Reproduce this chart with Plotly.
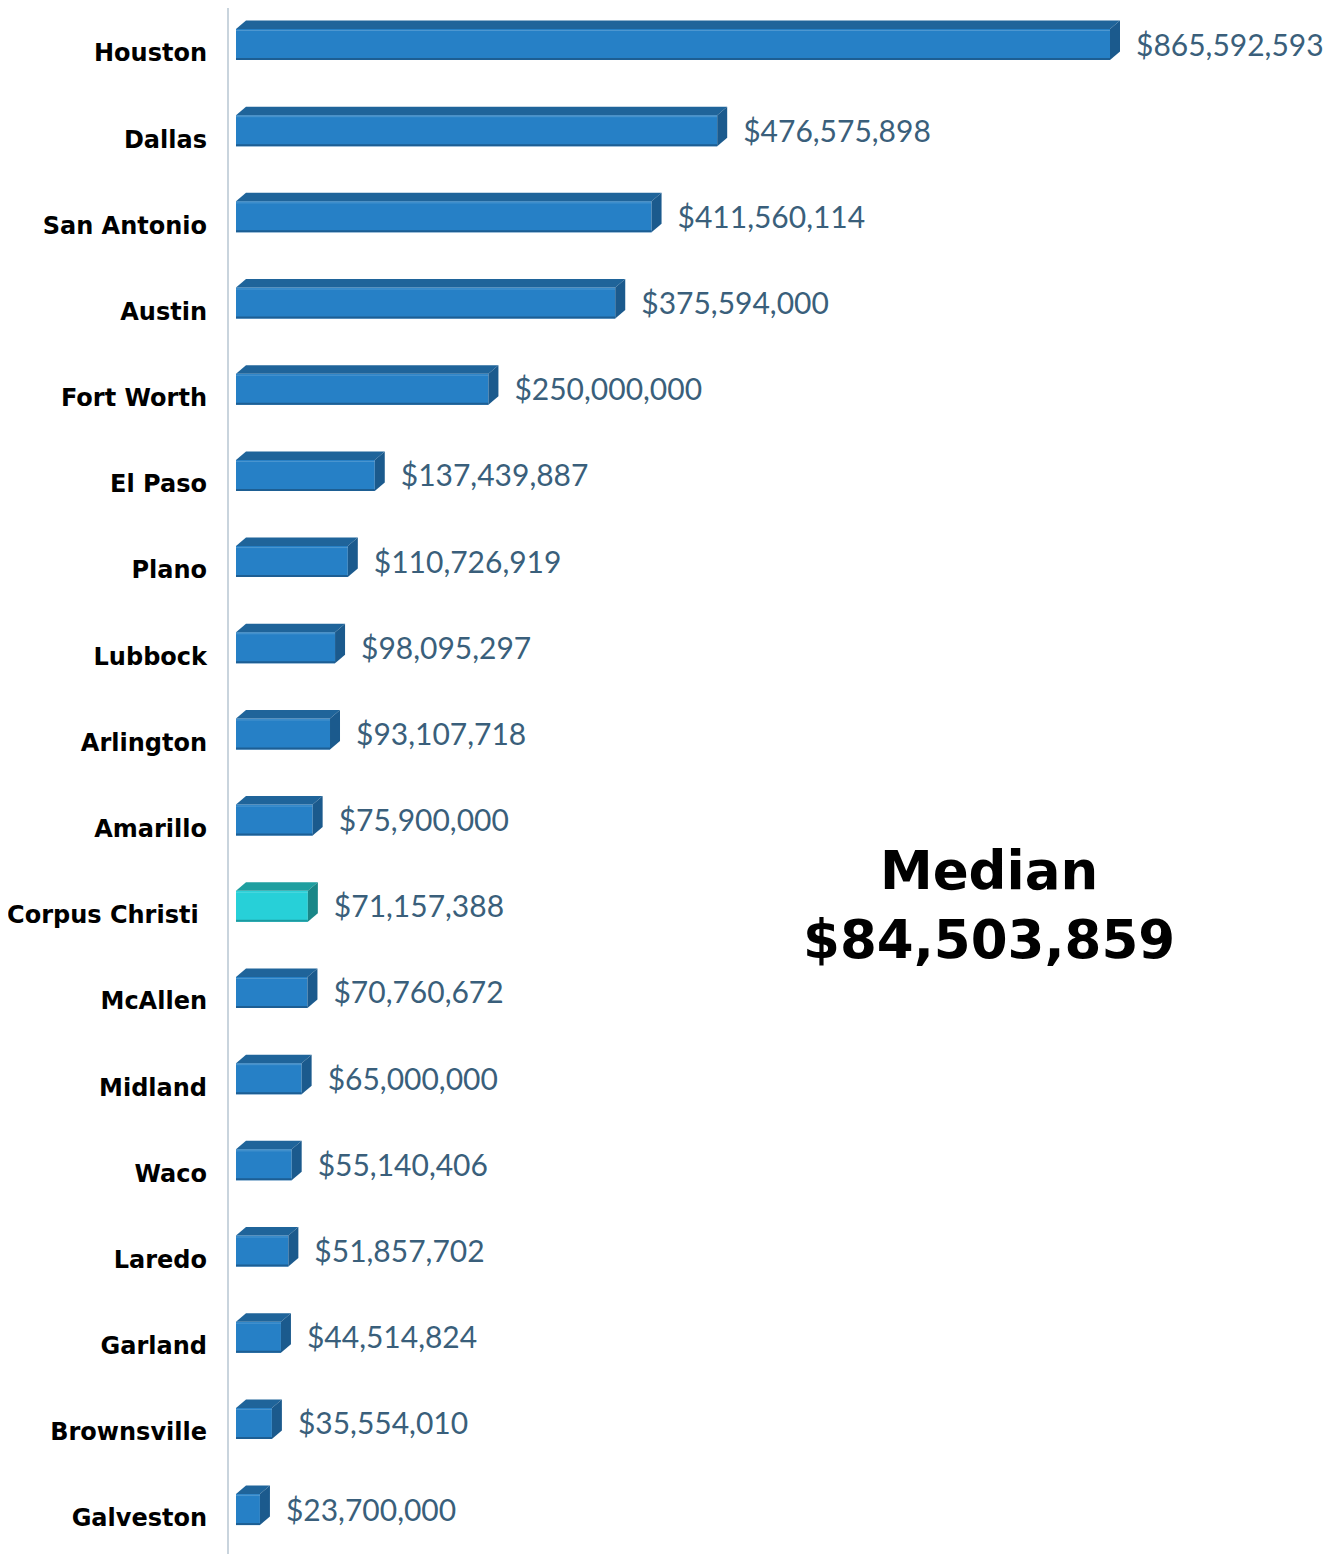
import plotly.graph_objects as go

cities = ["Houston", "Dallas", "San Antonio", "Austin", "Fort Worth", "El Paso", "Plano",
          "Lubbock", "Arlington", "Amarillo", "Corpus Christi", "McAllen", "Midland", "Waco",
          "Laredo", "Garland", "Brownsville", "Galveston"]
values = [865592593, 476575898, 411560114, 375594000, 250000000, 137439887, 110726919,
          98095297, 93107718, 75900000, 71157388, 70760672, 65000000, 55140406,
          51857702, 44514824, 35554010, 23700000]
highlight = "Corpus Christi"
median_label = "Median<br>$84,503,859"

# page has an 8px body margin, so figure coords = page coords - 8
W, H = 1333, 1546
ML = 220
PW = W - ML
K = 874.0 / 865592593.0          # px per dollar
XPAD = 8                          # px gap between axis line and bar start
ROW = 86.18                       # px per category
Y0PX = 45                         # px of first category centre
DX, DY = 10, 8.5                  # 3D depth in px
BAR_OFF = -24 / ROW
BAR_W = 31 / ROW

dxd = DX / K
dyd = DY / ROW

front_c = ["#27D0D8" if c == highlight else "#2680C6" for c in cities]
top_c = ["#1F9FA0" if c == highlight else "#1F649A" for c in cities]
side_c = ["#1A8788" if c == highlight else "#1B5A8D" for c in cities]
edge_c = ["#1C9AA0" if c == highlight else "#1D5E93" for c in cities]

idx = list(range(len(cities)))
fig = go.Figure()

fig.add_trace(go.Bar(
    x=values, y=idx, orientation="h", base=0,
    offset=BAR_OFF, width=BAR_W,
    marker=dict(color=front_c, line=dict(width=0)),
    hoverinfo="skip", showlegend=False,
))

for i, v in enumerate(values):
    yt = i + BAR_OFF
    yb = yt + BAR_W
    # top face
    fig.add_trace(go.Scatter(
        x=[0, v, v + dxd, dxd, 0], y=[yt, yt, yt - dyd, yt - dyd, yt],
        mode="lines", fill="toself", fillcolor=top_c[i],
        line=dict(width=0, color=top_c[i]), hoverinfo="skip", showlegend=False))
    # side face
    fig.add_trace(go.Scatter(
        x=[v, v + dxd, v + dxd, v, v], y=[yt, yt - dyd, yb - dyd, yb, yt],
        mode="lines", fill="toself", fillcolor=side_c[i],
        line=dict(width=0, color=side_c[i]), hoverinfo="skip", showlegend=False))
    # bottom dark edge of front face
    fig.add_trace(go.Scatter(
        x=[0, v], y=[yb - 1.0 / ROW, yb - 1.0 / ROW], mode="lines",
        line=dict(width=2, color=edge_c[i]), hoverinfo="skip", showlegend=False))
    # top highlight of front face
    fig.add_trace(go.Scatter(
        x=[0, v], y=[yt + 1.5 / ROW, yt + 1.5 / ROW], mode="lines",
        line=dict(width=1, color="rgba(255,255,255,0.18)"), hoverinfo="skip", showlegend=False))

fig.add_trace(go.Scatter(
    x=[v + 26 / K for v in values], y=[i + BAR_OFF + BAR_W / 2 + 3.5 / ROW for i in idx],
    mode="text", text=["${:,}".format(v) for v in values], textposition="middle right",
    textfont=dict(family="Lato", size=30, color="#3A5F7B"),
    hoverinfo="skip", showlegend=False, cliponaxis=False,
))

ticktext = [c + "\u00a0" if c == highlight else c for c in cities]

fig.update_layout(
    width=W, height=H,
    margin=dict(l=ML, r=0, t=0, b=0, pad=0),
    paper_bgcolor="white", plot_bgcolor="white",
    showlegend=False,
    xaxis=dict(range=[-XPAD / K, (PW - XPAD) / K], visible=False, fixedrange=True),
    yaxis=dict(range=[(H - Y0PX) / ROW, -Y0PX / ROW], tickmode="array", tickvals=idx,
               ticktext=ticktext, showgrid=False, zeroline=False, showline=False,
               ticks="", ticklabelstandoff=20, automargin=False,
               tickfont=dict(family="DejaVu Sans", size=24, color="black", weight="bold"),
               fixedrange=True),
    shapes=[dict(type="line", xref="paper", yref="paper", x0=0, x1=0, y0=0, y1=1,
                 line=dict(color="#C9D4DD", width=2))],
    annotations=[dict(text=median_label, xref="paper", yref="paper",
                      x=(981 - ML) / PW, y=1 - 897 / H, xanchor="center", yanchor="middle",
                      showarrow=False,
                      font=dict(family="DejaVu Sans", size=53, color="black", weight="bold"))],
)

fig.write_html("out.html")
